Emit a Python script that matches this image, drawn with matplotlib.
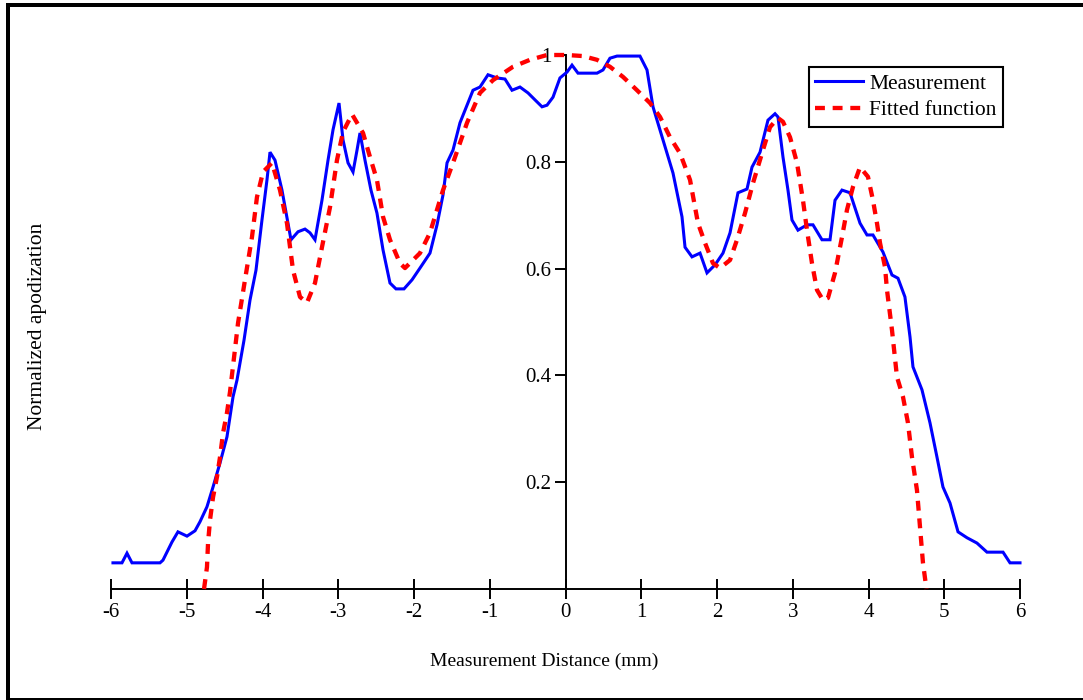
import matplotlib
matplotlib.use("Agg")
import matplotlib.pyplot as plt
from matplotlib.patches import Rectangle

# ---- data ----
meas_x = [-5.974, -5.855, -5.789, -5.723, -5.353, -5.314, -5.195, -5.116, -4.997, -4.891,
          -4.825, -4.733, -4.653, -4.561, -4.469, -4.389, -4.337, -4.244, -4.165, -4.086,
          -4.007, -3.941, -3.901, -3.835, -3.743, -3.624, -3.531, -3.439, -3.373, -3.307,
          -3.215, -3.135, -3.069, -2.990, -2.937, -2.871, -2.805, -2.752, -2.713, -2.647,
          -2.568, -2.489, -2.409, -2.317, -2.238, -2.132, -2.026, -1.921, -1.789, -1.696,
          -1.617, -1.564, -1.485, -1.393, -1.221, -1.129, -1.023, -0.904, -0.799, -0.706,
          -0.601, -0.495, -0.403, -0.310, -0.244, -0.165, -0.073, 0.020, 0.086, 0.165,
          0.416, 0.495, 0.587, 0.680, 0.983, 1.076, 1.155, 1.287, 1.419, 1.538,
          1.578, 1.670, 1.776, 1.868, 1.974, 2.079, 2.172, 2.277, 2.396, 2.462,
          2.568, 2.673, 2.766, 2.805, 2.871, 2.937, 2.990, 3.069, 3.188, 3.267,
          3.386, 3.492, 3.558, 3.650, 3.756, 3.888, 3.980, 4.059, 4.191, 4.310,
          4.389, 4.481, 4.548, 4.587, 4.706, 4.812, 4.904, 4.983, 5.076, 5.182,
          5.300, 5.432, 5.564, 5.776, 5.868, 6.000]
meas_y = [0.049, 0.049, 0.067, 0.049, 0.049, 0.054, 0.088, 0.107, 0.099, 0.109,
          0.126, 0.154, 0.191, 0.236, 0.285, 0.360, 0.391, 0.466, 0.541, 0.597,
          0.691, 0.766, 0.818, 0.803, 0.747, 0.654, 0.669, 0.674, 0.667, 0.654,
          0.728, 0.803, 0.860, 0.910, 0.841, 0.798, 0.781, 0.822, 0.854, 0.803,
          0.747, 0.704, 0.635, 0.573, 0.562, 0.562, 0.579, 0.601, 0.629, 0.682,
          0.738, 0.798, 0.822, 0.873, 0.934, 0.940, 0.963, 0.957, 0.955, 0.934,
          0.940, 0.929, 0.916, 0.903, 0.906, 0.921, 0.957, 0.968, 0.981, 0.966,
          0.966, 0.972, 0.994, 0.998, 0.998, 0.972, 0.903, 0.841, 0.779, 0.697,
          0.640, 0.622, 0.629, 0.592, 0.607, 0.629, 0.667, 0.742, 0.749, 0.790,
          0.818, 0.878, 0.890, 0.884, 0.809, 0.747, 0.691, 0.672, 0.682, 0.682,
          0.654, 0.654, 0.728, 0.747, 0.742, 0.685, 0.663, 0.663, 0.631, 0.588,
          0.582, 0.547, 0.472, 0.416, 0.373, 0.311, 0.247, 0.191, 0.161, 0.107,
          0.096, 0.086, 0.069, 0.069, 0.049, 0.049]

fit_x = [-4.772, -4.733, -4.719, -4.693, -4.653, -4.601, -4.561, -4.521, -4.469, -4.429,
         -4.323, -4.231, -4.139, -4.073, -3.993, -3.875, -3.769, -3.677, -3.597, -3.505,
         -3.413, -3.307, -3.215, -3.109, -3.017, -2.937, -2.818, -2.673, -2.581, -2.489,
         -2.409, -2.317, -2.185, -2.119, -1.921, -1.789, -1.617, -1.485, -1.300, -1.129,
         -0.957, -0.693, -0.469, -0.244, 0.020, 0.231, 0.416, 0.587, 0.759, 0.944,
         1.116, 1.248, 1.380, 1.512, 1.644, 1.749, 1.842, 1.947, 2.040, 2.172,
         2.264, 2.370, 2.475, 2.594, 2.700, 2.805, 2.871, 2.964, 3.056, 3.135,
         3.188, 3.254, 3.320, 3.399, 3.465, 3.558, 3.650, 3.716, 3.795, 3.888,
         3.993, 4.059, 4.112, 4.152, 4.218, 4.244, 4.310, 4.376, 4.455, 4.521,
         4.574, 4.640, 4.680, 4.719, 4.765]
fit_y = [0.000, 0.041, 0.086, 0.129, 0.172, 0.210, 0.247, 0.292, 0.330, 0.369,
         0.498, 0.579, 0.659, 0.734, 0.781, 0.798, 0.747, 0.685, 0.597, 0.547,
         0.536, 0.573, 0.640, 0.715, 0.803, 0.856, 0.889, 0.854, 0.809, 0.766,
         0.697, 0.654, 0.610, 0.601, 0.629, 0.667, 0.747, 0.798, 0.873, 0.929,
         0.953, 0.978, 0.991, 1.000, 1.000, 0.998, 0.991, 0.978, 0.959, 0.934,
         0.910, 0.884, 0.846, 0.816, 0.766, 0.685, 0.648, 0.610, 0.601, 0.616,
         0.654, 0.704, 0.760, 0.816, 0.865, 0.882, 0.875, 0.846, 0.798, 0.728,
         0.672, 0.610, 0.560, 0.541, 0.545, 0.592, 0.659, 0.710, 0.753, 0.790,
         0.772, 0.728, 0.685, 0.648, 0.603, 0.560, 0.485, 0.397, 0.360, 0.311,
         0.247, 0.185, 0.116, 0.049, 0.000]

x_ticks = [-6, -5, -4, -3, -2, -1, 0, 1, 2, 3, 4, 5, 6]
x_ticklabels = ["-6", "-5", "-4", "-3", "-2", "-1", "0", "1", "2", "3", "4", "5", "6"]
y_ticks = [0.2, 0.4, 0.6, 0.8, 1.0]
y_ticklabels = ["0.2", "0.4", "0.6", "0.8", "1"]

plt.rcParams['font.family'] = ['Liberation Serif', 'DejaVu Serif']

W, H = 1083, 700
fig = plt.figure(figsize=(W / 100, H / 100), dpi=100)
fig.patch.set_facecolor('white')

# outer frame
fig.add_artist(Rectangle((6 / W, 0), 4 / W, 1 - 3 / H, transform=fig.transFigure,
                         facecolor='black', edgecolor='none'))
fig.add_artist(Rectangle((6 / W, 1 - 7 / H), 1 - 6 / W, 4 / H, transform=fig.transFigure,
                         facecolor='black', edgecolor='none'))
fig.add_artist(Rectangle((6 / W, 0), 1 - 6 / W, 2 / H, transform=fig.transFigure,
                         facecolor='black', edgecolor='none'))

left_px, right_px = 111, 1020
y0_px, y1_px = 589, 55
ax = fig.add_axes([left_px / W, (H - y0_px) / H, (right_px - left_px) / W, (y0_px - y1_px) / H])
ax.set_xlim(-6, 6)
ax.set_ylim(0, 1)
ax.patch.set_alpha(0)

ax.plot(meas_x, meas_y, color='#0000ff', lw=2.2, label='Measurement', clip_on=False,
        solid_joinstyle='miter')
ax.plot(fit_x, fit_y, color='#ff0000', lw=3.1, dashes=(2.3, 1.8), label='Fitted function',
        clip_on=False, dash_capstyle='butt')

for s in ['top', 'right']:
    ax.spines[s].set_visible(False)
ax.spines['left'].set_position(('data', 0))
ax.spines['bottom'].set_position(('data', 0))
ax.spines['left'].set_bounds(0, 1)
ax.spines['left'].set_linewidth(1.4)
ax.spines['bottom'].set_linewidth(1.4)
ax.spines['left'].set_zorder(1)
ax.spines['bottom'].set_zorder(1)

ax.set_xticks(x_ticks)
ax.set_xticklabels(x_ticklabels)
ax.set_yticks(y_ticks)
ax.set_yticklabels(y_ticklabels)
ax.tick_params(axis='x', direction='inout', length=14, width=1.4, pad=3, labelsize=15)
ax.tick_params(axis='y', direction='out', length=8, width=1.4, pad=2, labelsize=15)

fig.text(544 / W, 1 - 661 / H, "Measurement Distance (mm)", ha='center', va='center', fontsize=14)
fig.text(38 / W, 1 - 326 / H, "Normalized apodization", ha='center', va='center',
         rotation=90, fontsize=15.5)

leg = ax.legend(loc='upper left', bbox_to_anchor=(809 / W, 1 - 67 / H),
                bbox_transform=fig.transFigure, borderaxespad=0, fancybox=False,
                shadow=False, framealpha=1, edgecolor='black', fontsize=15.5,
                handlelength=2.2, handletextpad=0.3, borderpad=0.3, labelspacing=0.3,
                handleheight=0.7)
leg.get_frame().set_linewidth(1.5)

fig.savefig("out.png", dpi=100, facecolor='white')
